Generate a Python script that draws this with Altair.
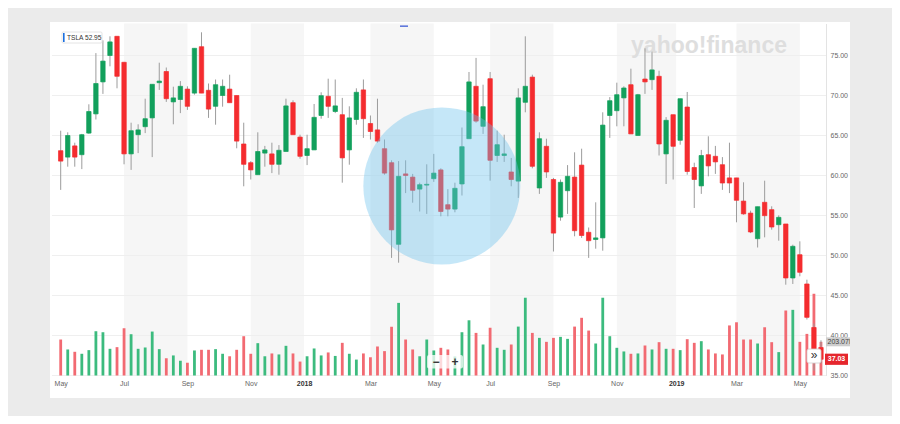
import altair as alt
import pandas as pd

# ---------------- data ----------------
first_week = "2017-05-01"
opens = [63.1, 62.3, 63.7, 62.6, 65.3, 67.7, 71.7, 75.0, 77.4, 74.15,
         62.7, 65.1, 66.1, 67.2, 71.6, 73.0, 69.2, 69.5, 70.8, 70.3,
         76.1, 70.65, 68.65, 70.0, 70.8, 70.0, 63.94, 61.6, 60.1, 62.8,
         62.7, 61.4, 63.0, 69.1, 64.8, 62.5, 63.2, 67.5, 69.9, 68.0,
         67.6, 63.2, 67.0, 70.7, 66.5, 65.7, 63.35, 61.6, 51.4, 60.2,
         59.8, 58.3, 58.8, 59.6, 60.7, 56.35, 55.8, 58.94, 64.6, 71.15,
         66.15, 72.1, 62.5, 62.5, 60.44, 59.3, 69.15, 72.3, 58.44, 63.65,
         59.5, 54.8, 58.1, 59.8, 61.3, 52.9, 52.0, 52.2, 67.5, 68.1,
         69.7, 71.35, 65.0, 72.06, 71.98, 72.4, 62.7, 67.6, 64.4, 68.56,
         61.0, 58.7, 62.6, 62.4, 61.35, 59.7, 59.7, 56.8, 55.3, 52.1,
         56.65, 55.73, 53.85, 53.94, 47.19, 50.1, 46.44, 41.0, 38.5]
highs = [65.6, 65.4, 64.1, 65.2, 68.9, 75.3, 76.9, 77.4, 77.4, 74.2,
         66.6, 66.4, 69.6, 71.4, 74.1, 73.5, 71.1, 71.8, 71.15, 75.9,
         77.9, 71.5, 72.0, 72.0, 72.6, 70.0, 66.6, 61.8, 65.4, 63.7,
         64.1, 63.8, 69.6, 69.4, 65.1, 65.1, 68.94, 70.4, 72.1, 72.0,
         69.7, 68.65, 70.9, 72.0, 67.5, 69.6, 64.5, 61.9, 61.8, 61.9,
         60.2, 59.1, 61.4, 62.7, 60.9, 58.3, 59.1, 66.0, 72.94, 74.7,
         71.35, 72.94, 65.6, 65.1, 62.2, 70.9, 77.4, 72.6, 65.4, 64.6,
         59.7, 59.5, 61.3, 62.9, 63.35, 53.5, 56.65, 67.9, 69.8, 71.6,
         71.15, 73.35, 70.2, 75.9, 75.5, 73.1, 67.3, 67.6, 69.6, 70.44,
         61.6, 63.2, 64.9, 63.7, 62.3, 64.1, 59.7, 59.15, 55.6, 56.1,
         59.35, 56.15, 55.02, 53.94, 51.35, 51.77, 46.98, 41.5, 39.4]
lows = [58.2, 61.1, 61.1, 60.8, 65.2, 67.0, 70.2, 73.65, 70.9, 61.4,
        60.7, 62.8, 65.3, 62.3, 70.7, 69.2, 66.4, 67.8, 68.2, 70.1,
        70.3, 67.2, 66.35, 68.6, 69.1, 63.4, 58.65, 59.5, 60.1, 61.1,
        60.3, 60.1, 63.0, 65.1, 62.1, 61.3, 63.2, 67.1, 67.2, 67.8,
        59.1, 61.35, 66.35, 64.7, 64.5, 64.1, 60.1, 49.7, 49.1, 57.8,
        56.6, 55.5, 55.2, 59.2, 54.9, 54.9, 55.4, 57.5, 64.6, 66.6,
        65.2, 59.35, 61.7, 61.7, 58.65, 57.2, 67.9, 60.9, 57.7, 59.7,
        50.5, 54.35, 55.2, 52.4, 52.2, 49.7, 50.85, 50.6, 64.7, 66.15,
        66.15, 65.2, 65.0, 70.2, 70.7, 62.5, 58.94, 59.5, 63.85, 60.1,
        55.94, 57.7, 59.9, 60.2, 58.2, 57.8, 54.15, 55.1, 52.8, 51.0,
        52.27, 53.23, 51.85, 46.35, 46.44, 47.4, 42.0, 35.6, 36.5]
closes = [61.8, 65.0, 62.3, 65.1, 68.0, 71.5, 74.3, 76.7, 72.4, 62.7,
          65.6, 65.7, 67.1, 71.4, 71.8, 69.6, 69.7, 71.15, 68.65, 75.9,
          70.3, 68.3, 71.35, 71.15, 69.1, 64.3, 61.4, 60.7, 63.0, 63.2,
          61.4, 63.15, 68.7, 65.1, 62.4, 63.35, 67.27, 69.98, 68.65, 68.7,
          62.2, 67.2, 70.4, 67.1, 65.5, 64.3, 60.3, 53.2, 59.9, 60.0,
          58.15, 58.85, 58.9, 60.3, 55.5, 55.8, 58.4, 63.6, 71.7, 66.8,
          68.6, 61.9, 63.85, 62.7, 59.5, 69.7, 71.15, 61.15, 64.6, 60.44,
          52.8, 59.15, 59.9, 53.1, 52.5, 51.85, 52.2, 66.3, 69.35, 70.1,
          70.94, 65.2, 70.1, 71.7, 73.2, 63.94, 66.9, 63.65, 69.6, 60.5,
          59.5, 62.5, 61.2, 61.7, 59.06, 59.06, 56.9, 55.2, 52.94, 56.1,
          54.98, 53.56, 54.77, 47.19, 51.15, 47.9, 42.27, 38.13, 37.03]
volumes_m = [217, 157, 143, 131, 153, 267, 261, 161, 171, 285,
             249, 161, 169, 265, 159, 104, 121, 89, 77, 151,
             155, 155, 159, 131, 116, 155, 237, 131, 195, 116,
             133, 127, 179, 133, 84, 116, 163, 121, 139, 118,
             197, 131, 96, 133, 110, 175, 147, 294, 438, 217,
             157, 116, 217, 151, 167, 157, 115, 261, 333, 257,
             187, 288, 167, 155, 187, 295, 469, 257, 227, 203,
             227, 233, 221, 295, 348, 271, 193, 469, 237, 167,
             145, 131, 133, 181, 157, 201, 161, 161, 153, 219,
             197, 207, 157, 133, 127, 302, 321, 217, 217, 193,
             291, 201, 141, 392, 396, 203, 251, 493, 203.07]

band_starts = ["2017-07-03", "2017-11-06", "2018-03-05", "2018-07-02", "2018-11-05", "2019-03-04"]
band_ends = ["2017-09-04", "2017-12-29", "2018-05-07", "2018-09-03", "2019-01-03", "2019-05-06"]

tick_dates = ["2017-05-01", "2017-07-03", "2017-09-04", "2017-11-06", "2017-12-29",
              "2018-03-05", "2018-05-07", "2018-07-02", "2018-09-03", "2018-11-05",
              "2019-01-03", "2019-03-04", "2019-05-06"]
tick_labels = ["May", "Jul", "Sep", "Nov", "2018", "Mar", "May", "Jul", "Sep", "Nov",
               "2019", "Mar", "May"]
price_ticks = [35, 40, 45, 50, 55, 60, 65, 70, 75]

ticker = "TSLA"
legend_value = "52.95"
highlight_date = "2018-05-15"
highlight_price = 58.7
last_close = closes[-1]
last_volume = volumes_m[-1]

# ---------------- frames ----------------
dates = pd.date_range(first_week, periods=len(opens), freq="7D").strftime("%Y-%m-%d").tolist()
df = pd.DataFrame(dict(date=dates, open=opens, high=highs, low=lows,
                       close=closes, volume=volumes_m))
bands = pd.DataFrame(dict(start=band_starts, end=band_ends))
grid = pd.DataFrame(dict(v=price_ticks))
one = pd.DataFrame({"a": [0]})

def ms(s):
    return int(pd.Timestamp(s, tz="UTC").value // 10**6)

x_dom = [ms("2017-04-22T08:24:00"), ms("2019-06-01T00:00:00")]
W, H = 774, 352
FONT = "Liberation Sans"

label_map = "{" + ",".join(f"'{d}':'{l}'" for d, l in zip(tick_dates, tick_labels)) + "}"
year_test = "utcmonth(datum.value)==11 || utcmonth(datum.value)==0"
x_axis = alt.Axis(values=[ms(d) for d in tick_dates],
                  labelExpr=label_map + "[utcFormat(datum.value,'%Y-%m-%d')]",
                  title=None, ticks=False, domain=False, grid=False,
                  labelFontSize=7, labelFont=FONT, labelPadding=4, labelFlush=False,
                  labelColor={"condition": {"test": year_test, "value": "#333333"},
                              "value": "#666666"},
                  labelFontWeight={"condition": {"test": year_test, "value": "bold"},
                                   "value": "normal"})
x_scale = alt.Scale(domain=x_dom, nice=False, padding=0)
price_scale = alt.Scale(domain=[35, 79], nice=False, zero=False, padding=0)
vol_scale = alt.Scale(domain=[0, 2123], nice=False, zero=True, padding=0)

y_axis = alt.Axis(orient="right", values=price_ticks, format=".2f", title=None,
                  ticks=False, grid=False, domain=True, domainColor="#e3e3e3",
                  labelFontSize=7, labelFont=FONT, labelColor="#666666", labelPadding=4)

GREEN, RED = "#12a05c", "#f42c2f"
VGREEN, VRED = "#3cbb7e", "#f26a72"
up = "datum.close >= datum.open"

band_layer = alt.Chart(bands).mark_rect(color="#f6f6f6").encode(
    x=alt.X("start:T", scale=x_scale, axis=x_axis), x2="end:T",
    y=alt.value(0), y2=alt.value(H))

grid_layer = alt.Chart(grid).mark_rule(color="#efefef", strokeWidth=1).encode(
    y=alt.Y("v:Q", scale=price_scale, axis=None), x=alt.value(0), x2=alt.value(W))

watermark = alt.Chart(one).mark_text(text="yahoo!finance", font=FONT, fontSize=23,
                                     fontWeight="bold", color="#dedede",
                                     align="center", baseline="alphabetic").encode(
    x=alt.value(657), y=alt.value(29))

vol_layer = alt.Chart(df).mark_bar(size=2.8).encode(
    x=alt.X("date:T", scale=x_scale, axis=x_axis),
    y=alt.Y("volume:Q", scale=vol_scale, axis=None),
    color=alt.condition(up, alt.value(VGREEN), alt.value(VRED)))

wick_layer = alt.Chart(df).mark_rule(color="#9c9c9c", strokeWidth=1).encode(
    x=alt.X("date:T", scale=x_scale, axis=x_axis),
    y=alt.Y("low:Q", scale=price_scale, axis=None), y2="high:Q")

body_layer = alt.Chart(df).mark_bar(size=4.4, strokeWidth=0.7).encode(
    x=alt.X("date:T", scale=x_scale, axis=x_axis),
    y=alt.Y("open:Q", scale=price_scale, axis=y_axis), y2="close:Q",
    color=alt.condition(up, alt.value(GREEN), alt.value(RED)),
    stroke=alt.condition(up, alt.value(GREEN), alt.value(RED)))

circle = alt.Chart(pd.DataFrame(dict(date=[highlight_date], p=[highlight_price]))).mark_point(
    shape="circle", filled=True, size=24650, color="#6fc2ee", opacity=0.4).encode(
    x=alt.X("date:T", scale=x_scale, axis=x_axis),
    y=alt.Y("p:Q", scale=price_scale, axis=None))

blue_dash = alt.Chart(one).mark_rect(color="#3d5bd6").encode(
    x=alt.value(348), x2=alt.value(356), y=alt.value(2), y2=alt.value(3.3))

legend_box = alt.Chart(one).mark_rect(color="white", stroke="#dddddd", strokeWidth=0.8,
                                      cornerRadius=1).encode(
    x=alt.value(10), x2=alt.value(50), y=alt.value(8.5), y2=alt.value(19.5))
legend_bar = alt.Chart(one).mark_rect(color="#1a6fe0").encode(
    x=alt.value(11), x2=alt.value(12.6), y=alt.value(9.5), y2=alt.value(18.5))
legend_text = alt.Chart(one).mark_text(text=f"{ticker} {legend_value}", font=FONT, fontSize=6.6,
                                       color="#333333", align="left", baseline="middle").encode(
    x=alt.value(15), y=alt.value(14))

zoom_box = alt.Chart(one).mark_rect(color="white", opacity=0.75, cornerRadius=2).encode(
    x=alt.value(375), x2=alt.value(411), y=alt.value(331.5), y2=alt.value(345))
zoom_text = alt.Chart(pd.DataFrame(dict(t=["\u2212", "+"], px=[384, 403]))).mark_text(
    font=FONT, fontSize=12, fontWeight="bold", color="#333333", align="center",
    baseline="middle").encode(text="t:N", x=alt.X("px:Q", scale=None), y=alt.value(338))

more_box = alt.Chart(one).mark_rect(color="white", stroke="#d0d0d0", strokeWidth=0.8,
                                    cornerRadius=2).encode(
    x=alt.value(755), x2=alt.value(769), y=alt.value(325.5), y2=alt.value(339.5))
more_text = alt.Chart(one).mark_text(text="\u00bb", font=FONT, fontSize=12, color="#333333",
                                     align="center", baseline="middle").encode(
    x=alt.value(762), y=alt.value(331.5))

tags = pd.DataFrame(dict(v=[last_close], lo=[last_close - 0.7], hi=[last_close + 0.7],
                         t=[f"{last_close:.2f}"]))
close_tag = alt.Chart(tags).mark_rect(color="#e5262d").encode(
    y=alt.Y("lo:Q", scale=price_scale, axis=None), y2="hi:Q",
    x=alt.value(773), x2=alt.value(796))
close_text = alt.Chart(tags).mark_text(font=FONT, fontSize=7, fontWeight="bold", color="white",
                                       align="center", baseline="middle").encode(
    y=alt.Y("v:Q", scale=price_scale, axis=None), x=alt.value(784.5), text="t:N")

vtags = pd.DataFrame(dict(v=[last_volume], lo=[last_volume - 27], hi=[last_volume + 27],
                          t=[f"{last_volume:.2f}M"]))
vol_tag = alt.Chart(vtags).mark_rect(color="#cdcdcd").encode(
    y=alt.Y("lo:Q", scale=vol_scale, axis=None), y2="hi:Q",
    x=alt.value(774), x2=alt.value(800))
vol_text = alt.Chart(vtags).mark_text(font=FONT, fontSize=7, color="#444444",
                                      align="left", baseline="middle").encode(
    y=alt.Y("v:Q", scale=vol_scale, axis=None), x=alt.value(775.5), text="t:N")

GRAY = "#ebebeb"
def frame(x1, x2, y1, y2):
    return alt.Chart(one).mark_rect(color=GRAY).encode(
        x=alt.value(x1), x2=alt.value(x2), y=alt.value(y1), y2=alt.value(y2))

frames = [frame(-44, 840, -15.5, -1.5), frame(-44, 840, 374.5, 392.5),
          frame(-44, -2, -1.5, 374.5), frame(798, 840, -1.5, 374.5)]

chart = alt.layer(
    band_layer, grid_layer, watermark, vol_layer, wick_layer, body_layer, circle,
    blue_dash, legend_box, legend_bar, legend_text, zoom_box, zoom_text,
    close_tag, close_text, vol_tag, vol_text, *frames, more_box, more_text
).resolve_scale(y="independent").properties(
    width=W, height=H,
    autosize=alt.AutoSizeParams(type="none"),
    padding={"left": 44, "top": 15.5, "right": 66, "bottom": 40.5},
    background="white"
).configure_view(stroke=None)

chart.save("out.html", embed_options={"renderer": "svg", "actions": False})
